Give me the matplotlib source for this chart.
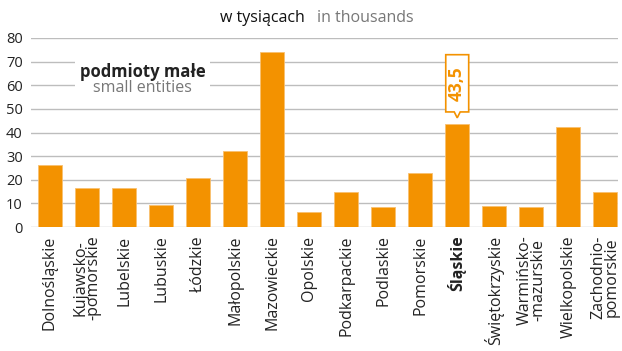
import numpy as np
import matplotlib
matplotlib.use("Agg")
import matplotlib.pyplot as plt
from matplotlib.patches import Polygon, Rectangle

regions = ["Dolnośląskie", "Kujawsko-\n-pomorskie", "Lubelskie", "Lubuskie", "Łódzkie",
           "Małopolskie", "Mazowieckie", "Opolskie", "Podkarpackie", "Podlaskie",
           "Pomorskie", "Śląskie", "Świętokrzyskie", "Warmińsko-\n-mazurskie",
           "Wielkopolskie", "Zachodnio-\npomorskie"]
values = [26.2, 16.5, 16.5, 9.3, 20.8, 32.2, 74.1, 6.3, 15.0, 8.6, 23.0, 43.5, 9.0, 8.3, 42.4, 14.7]
yticks = [0, 10, 20, 30, 40, 50, 60, 70, 80]
highlight = "Śląskie"

orange = "#F39200"
grid_c = "#BDBDBD"
plt.rcParams['font.family'] = ['Open Sans', 'DejaVu Sans']

fig = plt.figure(figsize=(6.22, 3.51), dpi=100)
ax = fig.add_axes([0.05, 0.353, 0.944, 0.539])

x = np.arange(len(values))
ax.bar(x, values, width=0.65, color=orange, edgecolor="#F8C070", linewidth=0.6, zorder=3)

ax.set_ylim(0, 80)
ax.set_xlim(-0.51, 15.35)
ax.set_yticks(yticks)
ax.yaxis.grid(True, color=grid_c, linewidth=1.0, zorder=0)
for s in ax.spines.values():
    s.set_visible(False)
ax.tick_params(axis='both', length=0, colors="#222222")
ax.tick_params(axis='y', labelsize=10.5, pad=6)
ax.set_xticks(x)
ax.set_xticklabels(regions, rotation=90, fontsize=11.5, linespacing=0.78, va='top', ha='center')
ax.tick_params(axis='x', pad=6)
for lbl in ax.get_xticklabels():
    if lbl.get_text() == highlight:
        lbl.set_fontweight('bold')

# header
fig.text(0.49, 0.948, "w tysiącach", ha='right', va='center', fontsize=11.5, color="#111111")
fig.text(0.51, 0.948, "in thousands", ha='left', va='center', fontsize=11.5, color="#777777")

# series caption on a white patch over the grid
ax.add_patch(Rectangle((0.68, 54.5), 3.64, 17.5, facecolor='white', edgecolor='none', zorder=2))
ax.text(2.5, 65.7, "podmioty małe", ha='center', va='center', fontsize=12, fontweight='bold',
        color="#222222", zorder=4)
ax.text(2.5, 58.9, "small entities", ha='center', va='center', fontsize=11.5,
        color="#777777", zorder=4)

# value callout above the highlighted bar
i = regions.index(highlight)
v = values[i]
bw = 0.31
y0, y1 = v + 5.2, v + 29.4
tip = v + 2.7
box = Polygon([(i - bw, y0), (i - 0.08, y0), (i, tip), (i + 0.08, y0), (i + bw, y0),
               (i + bw, y1), (i - bw, y1)], closed=True, facecolor='white',
              edgecolor=orange, linewidth=1.2, zorder=4)
ax.add_patch(box)
ax.text(i, (y0 + y1) / 2, f"{v:.1f}".replace(".", ","), rotation=90, ha='center', va='center',
        fontsize=12.5, fontweight='bold', color=orange, zorder=5)

fig.savefig("out.png", dpi=100)
